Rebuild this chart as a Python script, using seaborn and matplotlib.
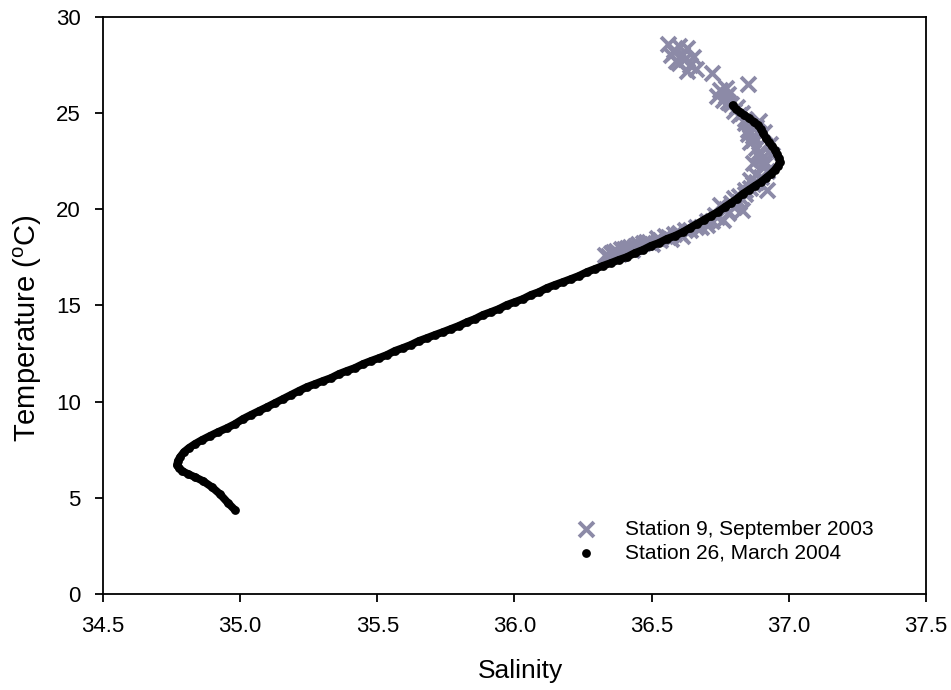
import matplotlib
matplotlib.use("Agg")
import matplotlib.pyplot as plt
import seaborn as sns
import pandas as pd

# ---- data ----
st26_salinity = [
    34.981, 34.956, 34.926, 34.897, 34.864, 34.835, 34.810, 34.788, 34.777, 34.770,
    34.773, 34.781, 34.795, 34.813, 34.835, 34.861, 34.890, 34.919, 34.952, 34.981,
    35.010, 35.039, 35.069, 35.098, 35.127, 35.156, 35.185, 35.214, 35.243, 35.273,
    35.302, 35.331, 35.360, 35.389, 35.418, 35.448, 35.477, 35.506, 35.535, 35.564,
    35.593, 35.622, 35.652, 35.681, 35.710, 35.739, 35.768, 35.797, 35.827, 35.856,
    35.885, 35.914, 35.943, 35.972, 36.001, 36.031, 36.060, 36.089, 36.118, 36.147,
    36.176, 36.206, 36.235, 36.264, 36.293, 36.322, 36.351, 36.380, 36.410, 36.439,
    36.468, 36.497, 36.526, 36.555, 36.585, 36.614, 36.639, 36.665, 36.690, 36.716,
    36.741, 36.767, 36.789, 36.810, 36.832, 36.854, 36.876, 36.898, 36.916, 36.934,
    36.949, 36.960, 36.967, 36.964, 36.956, 36.949, 36.938, 36.927, 36.916, 36.905,
    36.898, 36.887, 36.872, 36.854, 36.836, 36.821, 36.807, 36.795,
]
st26_temperature = [
    4.37, 4.73, 5.20, 5.56, 5.88, 6.08, 6.24, 6.40, 6.55, 6.71,
    6.92, 7.12, 7.38, 7.59, 7.80, 8.01, 8.22, 8.42, 8.63, 8.84,
    9.10, 9.31, 9.52, 9.72, 9.93, 10.14, 10.35, 10.56, 10.76, 10.92,
    11.08, 11.23, 11.44, 11.60, 11.75, 11.96, 12.12, 12.27, 12.43, 12.64,
    12.79, 12.95, 13.16, 13.31, 13.47, 13.62, 13.78, 13.94, 14.14, 14.30,
    14.51, 14.66, 14.82, 15.03, 15.18, 15.34, 15.55, 15.70, 15.91, 16.07,
    16.22, 16.38, 16.54, 16.74, 16.90, 17.06, 17.21, 17.37, 17.52, 17.73,
    17.89, 18.10, 18.25, 18.46, 18.62, 18.82, 19.03, 19.24, 19.45, 19.66,
    19.86, 20.12, 20.33, 20.54, 20.80, 21.01, 21.22, 21.42, 21.63, 21.84,
    22.05, 22.26, 22.46, 22.67, 22.88, 23.09, 23.30, 23.50, 23.71, 23.97,
    24.18, 24.39, 24.55, 24.75, 24.91, 25.06, 25.22, 25.40,
]

st9_salinity = [
    36.56, 36.58, 36.57, 36.60, 36.63, 36.61, 36.62, 36.59, 36.64, 36.66,
    36.63, 36.65, 36.72, 36.85, 36.75, 36.78, 36.76, 36.79, 36.81, 36.77,
    36.83, 36.84, 36.86, 36.85, 36.87, 36.86, 36.88, 36.89, 36.90, 36.91,
    36.92, 36.90, 36.88, 36.89, 36.91, 36.93, 36.87, 36.94,
    36.92, 36.86, 36.84, 36.82, 36.83, 36.80, 36.76, 36.78, 36.74, 36.70,
    36.66, 36.62, 36.58, 36.55, 36.52, 36.48, 36.45, 36.42, 36.39, 36.36,
    36.33, 36.34, 36.38, 36.43, 36.50, 36.57, 36.64, 36.70, 36.75, 36.80,
    36.86,
    36.35, 36.37, 36.40, 36.41, 36.44, 36.47, 36.49, 36.53, 36.56, 36.60,
    36.61, 36.68, 36.72, 36.73, 36.77, 36.79, 36.82, 36.84, 36.87, 36.88,
    36.91, 36.89, 36.87, 36.85, 36.88, 36.84, 36.82, 36.80, 36.78, 36.74,
    36.77, 36.60, 36.58,
]
st9_temperature = [
    28.6, 28.3, 28.0, 28.5, 28.4, 28.1, 27.8, 27.7, 27.5, 27.3,
    27.2, 27.9, 27.1, 26.5, 26.2, 26.0, 25.7, 25.5, 25.3, 25.9,
    25.0, 24.7, 24.4, 24.1, 23.8, 23.5, 23.2, 22.9, 22.6, 22.3,
    22.0, 21.7, 21.4, 24.6, 24.0, 23.4, 22.4, 22.8,
    21.0, 21.1, 20.8, 20.4, 19.95, 20.1, 19.45, 19.8, 19.6, 19.4,
    19.1, 18.9, 18.7, 18.6, 18.5, 18.3, 18.2, 18.05, 17.95, 17.8,
    17.65, 17.55, 17.7, 17.9, 18.2, 18.45, 18.9, 19.2, 20.2, 20.6,
    21.5,
    17.75, 17.85, 17.95, 18.0, 18.1, 18.25, 18.3, 18.4, 18.55, 18.75,
    18.6, 19.1, 19.4, 19.7, 20.0, 20.35, 20.7, 21.0, 21.3, 21.8,
    22.5, 23.0, 23.6, 23.9, 24.3, 24.5, 24.9, 25.1, 25.6, 25.9,
    26.3, 27.6, 28.2,
]

series_labels = ["Station 9, September 2003", "Station 26, March 2004"]
x_ticks = [34.5, 35.0, 35.5, 36.0, 36.5, 37.0, 37.5]
y_ticks = [0, 5, 10, 15, 20, 25, 30]

# ---- styling ----
sns.set_theme(style="white")
plt.rcParams["font.family"] = ["Liberation Sans", "DejaVu Sans"]
plt.rcParams["mathtext.default"] = "regular"

fig = plt.figure(figsize=(9.51, 6.90), dpi=100)
ax = fig.add_axes([0.1083, 0.1391, 0.8654, 0.8363])

df9 = pd.DataFrame({"Salinity": st9_salinity, "Temperature": st9_temperature})
df26 = pd.DataFrame({"Salinity": st26_salinity, "Temperature": st26_temperature})

sns.scatterplot(data=df9, x="Salinity", y="Temperature", ax=ax,
                marker="x", s=115, linewidth=2.8, color="#8C8AA7",
                label=series_labels[0], zorder=2)
# dense profile: consecutive samples overlap into a continuous trace
sns.lineplot(data=df26, x="Salinity", y="Temperature", ax=ax, sort=False,
             estimator=None, color="black", linewidth=5.6, legend=False,
             zorder=3, solid_capstyle="round", solid_joinstyle="round")
sns.scatterplot(data=df26, x="Salinity", y="Temperature", ax=ax,
                marker="o", s=40, linewidth=0, color="black",
                label=series_labels[1], zorder=3)

ax.set_xlim(34.5, 37.5)
ax.set_ylim(0, 30)
ax.set_xticks(x_ticks)
ax.set_xticklabels([f"{v:.1f}" for v in x_ticks])
ax.set_yticks(y_ticks)
ax.set_yticklabels([str(v) for v in y_ticks])

ax.tick_params(axis="both", which="major", direction="out", length=6,
               width=1.3, color="black", labelsize=16, labelcolor="black",
               bottom=True, left=True, top=False, right=False)
ax.tick_params(axis="x", pad=9.5)
ax.tick_params(axis="y", pad=10)
for sp in ax.spines.values():
    sp.set_color("black")
    sp.set_linewidth(1.3)
    sp.set_visible(True)

ax.set_xlabel("Salinity", fontsize=19, color="black")
ax.set_ylabel("Temperature ($^{o}$C)", fontsize=21, color="black")
ax.xaxis.set_label_coords(0.507, -0.112)
ax.yaxis.set_label_coords(-0.072, 0.461)
ax.grid(False)

leg = ax.legend(loc="lower left", bbox_to_anchor=(0.574, 0.054),
                frameon=False, fontsize=15, handlelength=1.0,
                handletextpad=1.4, labelspacing=0.25,
                borderpad=0, borderaxespad=0, markerscale=1.0,
                labelcolor="black")

fig.savefig("out.png", dpi=100)
